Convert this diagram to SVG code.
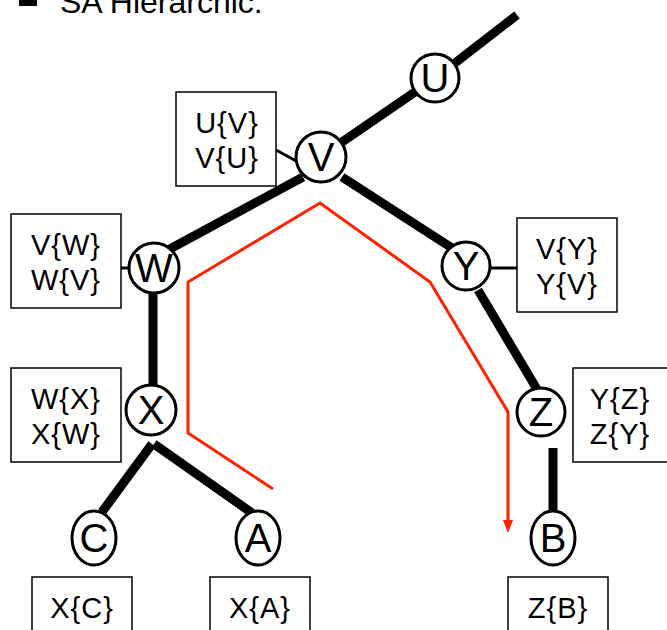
<svg xmlns="http://www.w3.org/2000/svg" width="667" height="630" viewBox="0 0 667 630">
<defs>
<style>
.edge{stroke:#000;stroke-width:9;fill:none}
.thin{stroke:#000;stroke-width:3;fill:none}
.node{fill:#fff;stroke:#000;stroke-width:3}
.box{fill:#fff;stroke:#000;stroke-width:1.5}
.nl{font-family:"Liberation Sans",Arial,sans-serif;font-size:40px;text-anchor:middle;fill:#000}
.bl{font-family:"Liberation Sans",Arial,sans-serif;font-size:29px;text-anchor:middle;fill:#000;letter-spacing:1px}
.red{stroke:#ff2200;stroke-width:3;fill:none}
</style>
</defs>
<text x="60" y="13" style="font-family:'Liberation Sans',Arial,sans-serif;font-size:32px;fill:#000">SA Hierarchic:</text>
<rect x="19" y="-10" width="18" height="16" fill="#000"/>
<g id="connectors">
<line class="edge" x1="517" y1="15" x2="455" y2="63"/>
<line class="edge" x1="415" y1="92" x2="342" y2="142"/>
<line class="edge" x1="303" y1="177" x2="168" y2="250"/>
<line class="edge" x1="342" y1="177" x2="452" y2="248"/>
<line class="edge" x1="153" y1="292" x2="153" y2="387"/>
<line class="edge" x1="478" y1="290" x2="538" y2="391"/>
<line class="edge" x1="553" y1="448" x2="553" y2="513"/>
<line class="edge" x1="152" y1="444" x2="102" y2="512"/>
<line class="edge" x1="154" y1="444" x2="252" y2="513"/>
<line class="thin" x1="276" y1="150" x2="298" y2="162"/>
<line class="thin" x1="120" y1="268" x2="130" y2="268"/>
<line class="thin" x1="489" y1="268" x2="517" y2="268"/>
<polyline class="red" points="273,489 188,433 188,282 320,203 430,282 508,412 508,524"/>
<path d="M503,520 L513,520 L508,533 Z" fill="#ff2200"/>
</g>
<g id="U"><circle class="node" cx="435" cy="78" r="24"/><text class="nl" x="435" y="92">U</text></g>
<g id="V"><circle class="node" cx="321" cy="157" r="25"/><text class="nl" x="321" y="171">V</text></g>
<g id="W"><circle class="node" cx="154" cy="268" r="25"/><text class="nl" x="154" y="282">W</text></g>
<g id="Y"><circle class="node" cx="466" cy="266" r="24"/><text class="nl" x="466" y="280">Y</text></g>
<g id="X"><circle class="node" cx="151" cy="410" r="25"/><text class="nl" x="151" y="424">X</text></g>
<g id="Z"><circle class="node" cx="541" cy="412" r="24"/><text class="nl" x="541" y="426">Z</text></g>
<g id="C"><ellipse class="node" cx="94" cy="538" rx="22" ry="27"/><text class="nl" x="94" y="552">C</text></g>
<g id="A"><ellipse class="node" cx="258" cy="538" rx="22" ry="27"/><text class="nl" x="258" y="552">A</text></g>
<g id="B"><ellipse class="node" cx="553" cy="538" rx="22" ry="27"/><text class="nl" x="553" y="552">B</text></g>
<g id="boxUV"><rect class="box" x="176" y="92" width="100" height="94"/><text class="bl" x="227" y="133">U{V}</text><text class="bl" x="227" y="168">V{U}</text></g>
<g id="boxVW"><rect class="box" x="11" y="214" width="110" height="94"/><text class="bl" x="66" y="255">V{W}</text><text class="bl" x="66" y="290">W{V}</text></g>
<g id="boxVY"><rect class="box" x="517" y="218" width="100" height="94"/><text class="bl" x="567" y="259">V{Y}</text><text class="bl" x="567" y="294">Y{V}</text></g>
<g id="boxWX"><rect class="box" x="11" y="368" width="110" height="94"/><text class="bl" x="66" y="409">W{X}</text><text class="bl" x="66" y="444">X{W}</text></g>
<g id="boxYZ"><rect class="box" x="573" y="368" width="100" height="94"/><text class="bl" x="620" y="409">Y{Z}</text><text class="bl" x="620" y="444">Z{Y}</text></g>
<g id="boxXC"><rect class="box" x="32" y="577" width="100" height="60"/><text class="bl" x="82" y="618">X{C}</text></g>
<g id="boxXA"><rect class="box" x="210" y="577" width="100" height="60"/><text class="bl" x="260" y="618">X{A}</text></g>
<g id="boxZB"><rect class="box" x="508" y="577" width="100" height="60"/><text class="bl" x="558" y="618">Z{B}</text></g>
</svg>
